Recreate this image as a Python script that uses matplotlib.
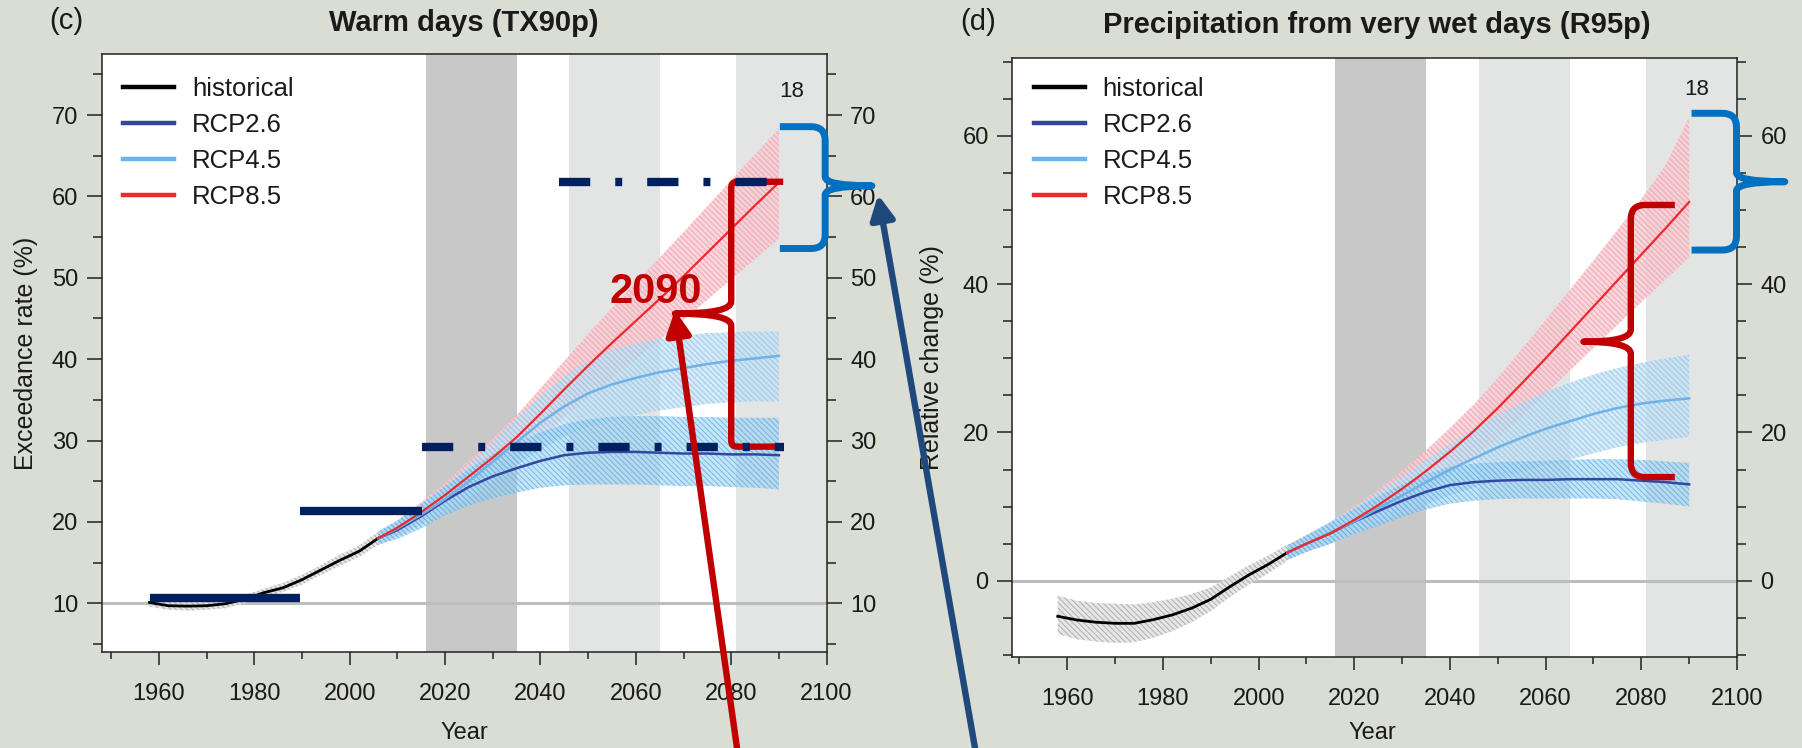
import numpy as np
import matplotlib
matplotlib.use("Agg")
import matplotlib.pyplot as plt
from matplotlib.path import Path
from matplotlib.patches import PathPatch, ConnectionPatch
from matplotlib.ticker import MultipleLocator

# =====================================================
# DATA
# =====================================================

years_hist = [1958, 1962, 1966, 1970, 1974, 1978, 1982, 1986, 1990, 1994, 1998, 2002, 2006]
years_proj = [2006, 2010, 2015, 2020, 2025, 2030, 2035, 2040, 2045,
              2050, 2055, 2060, 2065, 2070, 2075, 2080, 2085, 2090]

# (c) warm days, exceedance rate (%)
tx_hist = [10.1, 9.7, 9.65, 9.7, 9.95, 10.5, 11.3, 11.9, 12.9, 14.1, 15.3, 16.4, 18.0]
tx_hist_lo = [9.6, 9.2, 9.1, 9.2, 9.4, 10.0, 10.8, 11.4, 12.3, 13.5, 14.6, 15.7, 17.2]
tx_hist_hi = [10.6, 10.2, 10.2, 10.2, 10.5, 11.0, 11.8, 12.5, 13.5, 14.7, 16.0, 17.1, 18.8]

tx_rcp26 = [18.0, 19.0, 20.7, 22.6, 24.3, 25.6, 26.6, 27.5, 28.2, 28.5, 28.6, 28.6, 28.5, 28.4, 28.4, 28.3, 28.3, 28.2]
tx_rcp26_lo = [17.2, 17.9, 19.2, 20.8, 22.0, 22.9, 23.6, 24.2, 24.5, 24.6, 24.6, 24.6, 24.5, 24.4, 24.4, 24.3, 24.2, 24.0]
tx_rcp26_hi = [18.8, 20.1, 22.2, 24.4, 26.5, 28.3, 29.8, 31.0, 32.0, 32.6, 32.9, 33.0, 33.0, 32.9, 32.9, 32.8, 32.8, 32.8]

tx_rcp45 = [18.0, 19.2, 20.9, 22.8, 25.0, 27.4, 29.8, 32.2, 34.2, 35.8, 36.9, 37.7, 38.4, 38.9, 39.4, 39.8, 40.1, 40.4]
tx_rcp45_lo = [17.2, 18.2, 19.6, 21.3, 23.0, 25.0, 27.0, 28.9, 30.5, 31.7, 32.5, 33.1, 33.7, 34.1, 34.5, 34.7, 34.8, 34.8]
tx_rcp45_hi = [18.8, 20.2, 22.2, 24.3, 27.0, 29.8, 32.7, 35.5, 37.9, 39.8, 41.1, 41.9, 42.5, 42.9, 43.2, 43.3, 43.4, 43.4]

tx_rcp85 = [18.0, 19.3, 21.2, 23.3, 25.6, 27.9, 30.4, 33.3, 36.3, 39.2, 42.0, 44.7, 47.4, 50.2, 53.1, 56.0, 58.9, 61.7]
tx_rcp85_lo = [17.2, 18.4, 20.0, 21.8, 23.7, 25.6, 27.7, 30.2, 32.8, 35.3, 37.7, 40.0, 42.3, 44.8, 47.3, 49.8, 52.3, 54.8]
tx_rcp85_hi = [18.8, 20.2, 22.4, 24.8, 27.5, 30.2, 33.1, 36.4, 39.8, 43.1, 46.3, 49.4, 52.5, 55.6, 58.8, 62.0, 65.2, 68.3]

# (d) very wet days, relative change (%)
pr_hist = [-4.8, -5.3, -5.6, -5.75, -5.75, -5.25, -4.6, -3.7, -2.5, -0.8, 0.8, 2.2, 3.8]
pr_hist_lo = [-7.2, -7.9, -8.2, -8.4, -8.3, -7.7, -6.8, -5.6, -4.1, -2.2, -0.5, 1.0, 2.7]
pr_hist_hi = [-2.0, -2.7, -3.0, -3.1, -3.2, -2.9, -2.4, -1.8, -0.9, 0.6, 2.1, 3.4, 4.9]

pr_rcp26 = [3.8, 5.0, 6.4, 8.0, 9.4, 10.8, 12.0, 12.9, 13.3, 13.5, 13.6, 13.6, 13.7, 13.7, 13.7, 13.5, 13.3, 13.0]
pr_rcp26_lo = [2.8, 3.9, 5.0, 6.3, 7.4, 8.6, 9.6, 10.4, 10.8, 11.0, 11.1, 11.1, 11.1, 11.1, 11.0, 10.7, 10.4, 10.0]
pr_rcp26_hi = [4.8, 6.1, 7.8, 9.7, 11.4, 13.0, 14.4, 15.4, 15.8, 16.0, 16.1, 16.2, 16.3, 16.4, 16.4, 16.3, 16.1, 15.9]

pr_rcp45 = [3.8, 5.0, 6.5, 8.0, 9.8, 11.5, 13.3, 15.0, 16.5, 18.0, 19.3, 20.5, 21.5, 22.5, 23.3, 23.9, 24.3, 24.6]
pr_rcp45_lo = [2.8, 3.9, 5.0, 6.3, 7.6, 9.0, 10.3, 11.5, 12.6, 13.7, 14.7, 15.5, 16.3, 17.2, 18.0, 18.6, 19.0, 19.4]
pr_rcp45_hi = [4.8, 6.1, 8.0, 9.8, 12.0, 14.0, 16.3, 18.5, 20.5, 22.4, 24.0, 25.5, 26.7, 27.8, 28.7, 29.4, 30.0, 30.5]

pr_rcp85 = [3.8, 5.0, 6.4, 8.2, 10.2, 12.4, 14.8, 17.4, 20.2, 23.3, 26.6, 30.0, 33.5, 37.0, 40.5, 44.0, 47.5, 51.1]
pr_rcp85_lo = [2.8, 3.9, 5.0, 6.5, 8.2, 10.1, 12.1, 14.3, 16.7, 19.3, 22.1, 25.2, 28.3, 31.4, 34.5, 37.6, 40.6, 43.6]
pr_rcp85_hi = [4.8, 6.2, 7.9, 10.0, 12.3, 14.8, 17.6, 20.6, 23.8, 27.4, 31.2, 35.2, 39.2, 43.2, 47.3, 51.5, 56.0, 62.5]

period_dark = (2016, 2035)
periods_light = [(2046, 2065), (2081, 2100)]

labels = ["historical", "RCP2.6", "RCP4.5", "RCP8.5"]

# overlay annotations (data units of each panel)
bars_c = [(1958.1, 1989.6, 10.7), (1989.6, 2015.2, 21.3)]
dashdot_c = [(2015.2, 2091.1, 29.25), (2043.8, 2090.9, 61.8)]

# brace: x_end, x_spine, x_tip, y_top, y_mid, y_bot
red_brace_c = (2090.9, 2080.0, 2068.2, 61.8, 45.6, 29.25)
blue_brace_c = (2090.2, 2099.7, 2109.5, 68.57, 61.3, 53.6)
red_brace_d = (2087.0, 2077.8, 2067.9, 50.69, 32.24, 13.98)
blue_brace_d = (2090.5, 2099.9, 2110.0, 63.06, 53.83, 44.61)

# =====================================================
# STYLE
# =====================================================

BG = "#d9ddd4"
DARK_PERIOD = "#c8c8c8"
LIGHT_PERIOD = "#e3e5e4"

C_HIST = "black"
C_26 = "#3447a0"
C_45 = "#6fb2e8"
C_85 = "#ec2a2e"

NAVY = "#002060"
DRED = "#c00000"
BBLUE = "#0070c0"
ARROW_BLUE = "#1f497d"

TXT = "#1a1a1a"

plt.rcParams["font.family"] = ["Liberation Sans", "DejaVu Sans"]
plt.rcParams["lines.scale_dashes"] = False
plt.rcParams["hatch.linewidth"] = 0.7

fig = plt.figure(figsize=(18.02, 7.48), dpi=100, facecolor=BG)

ax_c = fig.add_axes([0.05644, 0.12874, 0.40227, 0.79906])
ax_d = fig.add_axes([0.56177, 0.12206, 0.40216, 0.80000])

# =====================================================
# HELPERS
# =====================================================

def setup_axes(ax, xlim, ylim, ymajor):

    ax.set_xlim(*xlim)
    ax.set_ylim(*ylim)

    ax.xaxis.set_major_locator(MultipleLocator(20))
    ax.xaxis.set_minor_locator(MultipleLocator(10))
    ax.yaxis.set_major_locator(MultipleLocator(ymajor))
    ax.yaxis.set_minor_locator(MultipleLocator(5))

    ax.tick_params(
        axis="y", which="both", left=True, right=True,
        labelleft=True, labelright=True, direction="out",
        labelsize=17, pad=6, labelcolor=TXT, width=1.1, color="#222222"
    )
    ax.tick_params(axis="y", which="major", length=11)
    ax.tick_params(axis="y", which="minor", length=6.5)

    ax.tick_params(
        axis="x", which="both", direction="out",
        labelsize=17, pad=13, labelcolor=TXT, width=1.1, color="#222222"
    )
    ax.tick_params(axis="x", which="major", length=9.5)
    ax.tick_params(axis="x", which="minor", length=5)

    for s in ax.spines.values():
        s.set_linewidth(1.1)
        s.set_color("#222222")

    ax.axvspan(*period_dark, color=DARK_PERIOD, lw=0, zorder=0)
    for p in periods_light:
        ax.axvspan(*p, color=LIGHT_PERIOD, lw=0, zorder=0)


def band(ax, x, lo, hi, face, hatch_col, alpha, z):

    ax.fill_between(
        x, lo, hi, facecolor=face, edgecolor=hatch_col,
        hatch="\\\\\\\\\\\\", linewidth=0, alpha=alpha, zorder=z
    )


def draw_panel(ax, ref, hist, hist_lo, hist_hi, r26, r26_lo, r26_hi,
               r45, r45_lo, r45_hi, r85, r85_lo, r85_hi):

    ax.axhline(ref, color="#bdbdbd", lw=2.2, zorder=1)

    band(ax, years_hist, hist_lo, hist_hi, "#e4e4e4", "#a8a8a8", 0.9, 2)
    band(ax, years_proj, r85_lo, r85_hi, "#f8ccd3", "#f09aa8", 0.8, 2)
    band(ax, years_proj, r45_lo, r45_hi, "#c4e1f3", "#80bde6", 0.7, 3)
    band(ax, years_proj, r26_lo, r26_hi, "#9fd2f2", "#3a9ee0", 0.6, 3)

    h0, = ax.plot(years_hist, hist, color=C_HIST, lw=2.0, zorder=5)
    h1, = ax.plot(years_proj, r26, color=C_26, lw=1.8, zorder=5)
    h2, = ax.plot(years_proj, r45, color=C_45, lw=1.8, zorder=5)
    h3, = ax.plot(years_proj, r85, color=C_85, lw=1.6, zorder=5)

    return [h0, h1, h2, h3]


def brace(ax, spec, rc, rm, color, lw, z):

    x_end, x_spine, x_tip, y_top, y_mid, y_bot = spec

    p0 = ax.transData.transform((0, 0))
    p1 = ax.transData.transform((1, 1))
    sx, sy = p1 - p0

    d = np.sign(x_end - x_spine)
    cx = rc / sx
    cy = rc / sy
    my = rm / sy

    verts = [
        (x_end, y_top), (x_spine + d * cx, y_top),
        (x_spine, y_top), (x_spine, y_top - cy),
        (x_spine, y_mid + my),
        (x_spine, y_mid), (x_tip, y_mid),
        (x_spine, y_mid), (x_spine, y_mid - my),
        (x_spine, y_bot + cy),
        (x_spine, y_bot), (x_spine + d * cx, y_bot),
        (x_end, y_bot),
    ]
    codes = [
        Path.MOVETO, Path.LINETO,
        Path.CURVE3, Path.CURVE3,
        Path.LINETO,
        Path.CURVE3, Path.CURVE3,
        Path.CURVE3, Path.CURVE3,
        Path.LINETO,
        Path.CURVE3, Path.CURVE3,
        Path.LINETO,
    ]

    ax.add_patch(PathPatch(
        Path(verts, codes), fill=False, edgecolor=color, lw=lw,
        capstyle="butt", joinstyle="round", clip_on=False, zorder=z
    ))

# =====================================================
# PANEL (c)
# =====================================================

setup_axes(ax_c, (1948, 2100), (4.05, 77.5), 10)

handles = draw_panel(
    ax_c, 10, tx_hist, tx_hist_lo, tx_hist_hi,
    tx_rcp26, tx_rcp26_lo, tx_rcp26_hi,
    tx_rcp45, tx_rcp45_lo, tx_rcp45_hi,
    tx_rcp85, tx_rcp85_lo, tx_rcp85_hi
)

# =====================================================
# PANEL (d)
# =====================================================

setup_axes(ax_d, (1948.5, 2100), (-10.25, 70.48), 20)

draw_panel(
    ax_d, 0, pr_hist, pr_hist_lo, pr_hist_hi,
    pr_rcp26, pr_rcp26_lo, pr_rcp26_hi,
    pr_rcp45, pr_rcp45_lo, pr_rcp45_hi,
    pr_rcp85, pr_rcp85_lo, pr_rcp85_hi
)

# legends
for ax, lx in [(ax_c, 123.3 / 1802), (ax_d, 1034 / 1802)]:
    leg = ax.legend(
        handles, labels, loc="upper left",
        bbox_to_anchor=(lx, 0.8972), bbox_transform=fig.transFigure,
        frameon=False, fontsize=18.5, handlelength=1.98,
        handletextpad=0.69, labelspacing=0.47,
        borderpad=0, borderaxespad=0
    )
    for t in leg.get_texts():
        t.set_color(TXT)
    for ln in leg.get_lines():
        ln.set_linewidth(3.2)

ax_c.text(0.9517, 0.9286, "18", transform=ax_c.transAxes,
          fontsize=16, ha="center", va="baseline", color=TXT)
ax_d.text(0.9444, 0.9387, "18", transform=ax_d.transAxes,
          fontsize=16, ha="center", va="baseline", color=TXT)

# =====================================================
# TEXT
# =====================================================

fig.text(0.0369, 0.972, "(c)", fontsize=21, ha="center", va="center", color=TXT)
fig.text(0.2575, 0.969, "Warm days (TX90p)", fontsize=21,
         fontweight="bold", ha="center", va="center", color=TXT)
fig.text(0.5426, 0.9706, "(d)", fontsize=21, ha="center", va="center", color=TXT)
fig.text(0.7642, 0.9666, "Precipitation from very wet days (R95p)", fontsize=21,
         fontweight="bold", ha="center", va="center", color=TXT)

fig.text(0.0145, 0.5282, "Exceedance rate (%)", rotation=90,
         fontsize=18, ha="center", va="center", color=TXT)
fig.text(0.5172, 0.522, "Relative change (%)", rotation=90,
         fontsize=18, ha="center", va="center", color=TXT)

fig.text(0.2575, 0.02, "Year", fontsize=17, ha="center", va="center", color=TXT)
fig.text(0.7614, 0.02, "Year", fontsize=17, ha="center", va="center", color=TXT)

# =====================================================
# OVERLAY ANNOTATIONS
# =====================================================

brace(ax_c, red_brace_c, 6, 12, DRED, 4.6, 7)
brace(ax_c, blue_brace_c, 14, 9, BBLUE, 5.0, 7)
brace(ax_d, red_brace_d, 14, 12, DRED, 4.6, 7)
brace(ax_d, blue_brace_d, 14, 9, BBLUE, 5.0, 7)

for x0, x1, y in bars_c:
    ax_c.plot([x0, x1], [y, y], color=NAVY, lw=6,
              solid_capstyle="butt", zorder=8)

for x0, x1, y in dashdot_c:
    ax_c.plot([x0, x1], [y, y], color=NAVY, lw=6,
              linestyle=(0, (22.5, 18, 5, 18)),
              dash_capstyle="butt", zorder=8, clip_on=False)

ax_c.text(2064.1, 46.9, "2090", fontsize=30, fontweight="bold",
          color=DRED, ha="center", va="baseline", zorder=9)

arrows = [
    (737 / 1802, (2068.2, 46.0), DRED),
    (975 / 1802, (2110.8, 60.2), ARROW_BLUE),
]

for x_tail, tip, col in arrows:
    con = ConnectionPatch(
        xyA=(x_tail, 0.0), coordsA="figure fraction",
        xyB=tip, coordsB="data", axesB=ax_c,
        arrowstyle="-|>,head_length=0.55,head_width=0.28",
        mutation_scale=26, color=col, lw=4.6,
        shrinkA=0, shrinkB=0, zorder=20
    )
    con.set_annotation_clip(False)
    fig.add_artist(con)

fig.savefig("out.png", dpi=100, facecolor=BG)
